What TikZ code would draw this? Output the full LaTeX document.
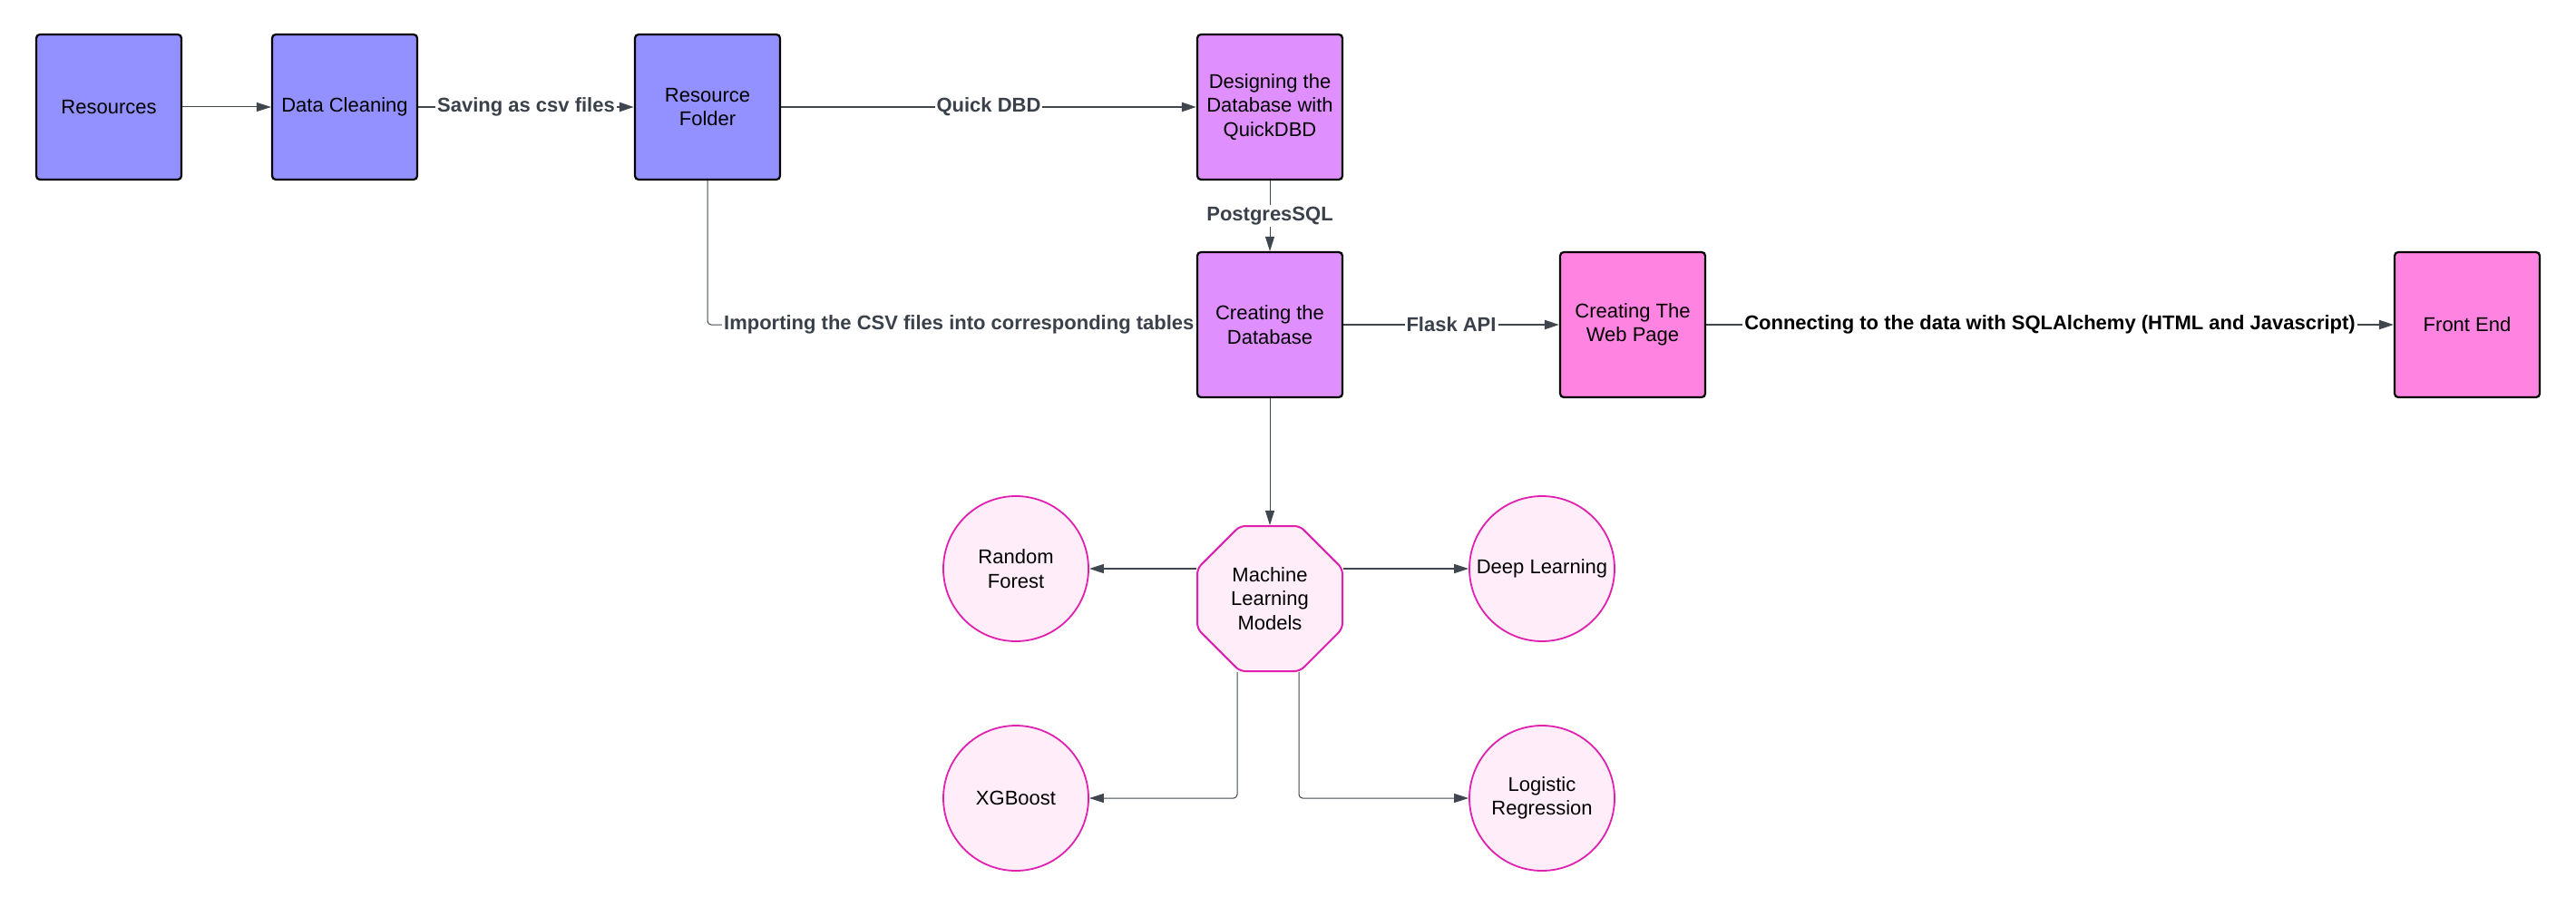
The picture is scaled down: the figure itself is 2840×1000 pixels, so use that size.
\documentclass[tikz,border=0pt]{standalone}
\usepackage{fontspec}
\setmainfont{Liberation Sans}
\usetikzlibrary{arrows.meta,shapes.geometric}
\definecolor{boxblue}{HTML}{9391FF}
\definecolor{boxviolet}{HTML}{E08FFF}
\definecolor{boxpink}{HTML}{FF83E0}
\definecolor{mlfill}{HTML}{FFEEF9}
\definecolor{mlborder}{HTML}{E020B0}
\definecolor{linegray}{HTML}{3F464E}
\definecolor{labelgray}{HTML}{3A414A}
\begin{document}
\begin{tikzpicture}[x=0.5pt,y=-0.5pt,
  txt/.style={align=center,font=\fontsize{11}{13.2}\selectfont},
  box/.style={txt,draw=black,line width=1.1pt,rounded corners=2pt,
    minimum width=80pt,minimum height=80pt,inner sep=2pt},
  model/.style={txt,circle,draw=mlborder,fill=mlfill,line width=0.9pt,
    minimum size=80pt,inner sep=0pt},
  link/.style={draw=linegray,line width=1pt,-{Triangle[length=8pt,width=5pt]}},
  thinlink/.style={link,line width=0.5pt},
  lbl/.style={fill=white,inner sep=1pt,text=labelgray,
    font=\bfseries\fontsize{11}{13.2}\selectfont}]
\useasboundingbox (0,0) rectangle (2840,1000);
%
\node[box,fill=boxblue] (res) at (120,118) {Resources};
\node[box,fill=boxblue] (clean) at (380,118) {Data Cleaning};
\node[box,fill=boxblue] (folder) at (780,118) {Resource\\Folder};
\node[box,fill=boxviolet] (design) at (1400,118) {Designing the\\Database with\\QuickDBD};
\node[box,fill=boxviolet] (db) at (1400,358) {Creating the\\Database};
\node[box,fill=boxpink] (web) at (1800,358) {Creating The\\Web Page};
\node[box,fill=boxpink] (front) at (2720,358) {Front End};
%
\node[txt,regular polygon,regular polygon sides=8,draw=mlborder,fill=mlfill,
  line width=1pt,minimum size=86.6pt,inner sep=0pt,rounded corners=3pt]
  (ml) at (1400,660) {Machine\\Learning\\Models};
\node[model] (rf) at (1120,627) {Random\\Forest};
\node[model] (dl) at (1700,627) {Deep Learning};
\node[model] (xg) at (1120,880) {XGBoost};
\node[model] (lr) at (1700,880) {Logistic\\Regression};
%
\draw[thinlink] (res) -- (clean);
\draw[link] (clean) -- node[lbl] {Saving as csv files} (folder);
\draw[link] (folder) -- node[lbl] {Quick DBD} (design);
\draw[thinlink] (design) -- node[lbl] {PostgresSQL} (db);
\draw[thinlink,rounded corners=2pt] (folder) |- node[lbl,pos=1,anchor=east]
  {Importing the CSV files into corresponding tables} (db);
\draw[link] (db) -- node[lbl] {Flask API} (web);
\draw[link] (web) -- node[lbl,text=black]
  {Connecting to the data with SQLAlchemy (HTML and Javascript)} (front);
%
\draw[thinlink] (db) -- (ml);
\draw[link,line width=0.7pt] (ml.west |- rf.east) -- (rf.east);
\draw[link,line width=0.7pt] (ml.east |- dl.west) -- (dl.west);
\draw[thinlink,rounded corners=2pt] ([xshift=-18pt]ml.south) |- (xg.east);
\draw[thinlink,rounded corners=2pt] ([xshift=16pt]ml.south) |- (lr.west);
%
\end{tikzpicture}
\end{document}
